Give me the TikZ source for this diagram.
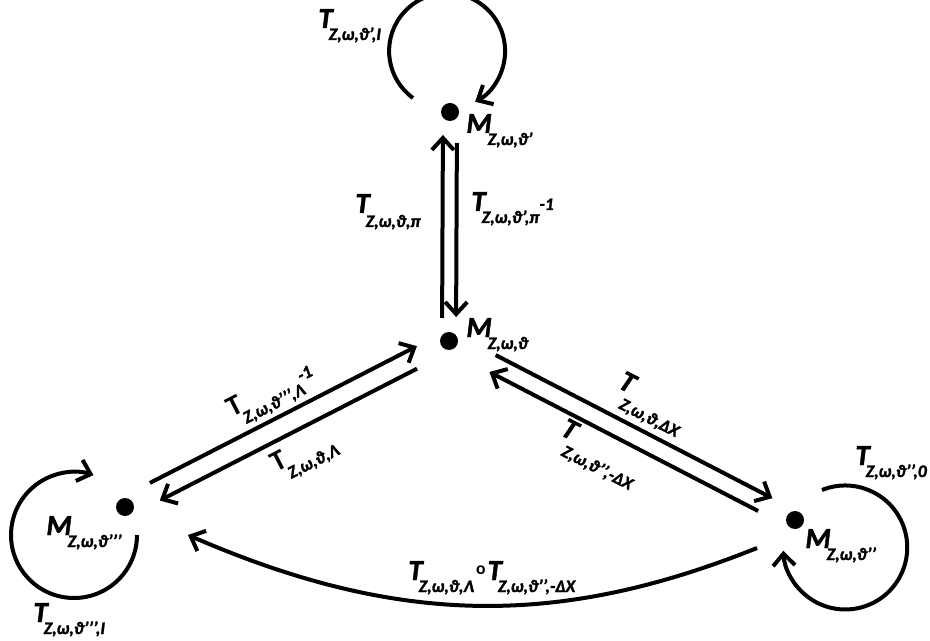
\documentclass[tikz,border=0pt]{standalone}
\usepackage{fontspec}
\setmainfont{Carlito}[BoldItalicFeatures={FakeBold=1.6}]
\usetikzlibrary{%
	arrows.meta,%
	positioning,%
	calc,%
}
\tikzset{
	>={Straight Barb[length=6pt,width=11pt]},%
	dotnode/.style={%
			circle,%
			fill,%
			inner sep=0pt,%
			minimum size=9pt},%
	lbl/.style={%
			inner sep=0pt,%
			font=\fontsize{14.5}{16}\selectfont\bfseries\itshape},%
	arr/.style={->, line width=2pt},%
}
\newcommand{\subfnt}{\fontsize{8.8}{10}\selectfont}
\newcommand{\tsub}[3][6pt]{#2\kern-2pt\raisebox{-#1}{\subfnt #3}}
\newcommand{\sps}[1]{\raisebox{6.5pt}{#1}}

\begin{document}
\begin{tikzpicture}[x=0.5pt, y=-0.5pt]
	\useasboundingbox (0,0) rectangle (930,641);

	% states
	\node[dotnode] (mt) at (450,112) {};
	\node[dotnode] (mc) at (449,341) {};
	\node[dotnode] (ml) at (125,507) {};
	\node[dotnode] (mr) at (795,520) {};

	\node[lbl, anchor=base west] (lmt) at (466,133) {\tsub{M}{Z,ω,ϑ’}};
	\node[lbl, anchor=base west] (lmc) at (466,337) {\tsub{M}{Z,ω,ϑ}};
	\node[lbl, anchor=base west] (lml) at (46,535) {\tsub{M}{Z,ω,ϑ’’’}};
	\node[lbl, anchor=base west] (lmr) at (805,548) {\tsub{M}{Z,ω,ϑ’’}};

	% transitions
	\draw[arr, shorten <=11.5pt, shorten >=11.5pt] ([shift={(-7,0)}]mc.center) -- ([shift={(-7,0)}]mt.center);
	\draw[arr, shorten <=15.5pt, shorten >=12pt] ([shift={(7,0)}]mt.center) -- ([shift={(7,0)}]mc.center);
	\draw[arr, shorten <=16.5pt, shorten >=15.5pt] ([shift={(-4.5,-9)}]ml.center) -- ([shift={(-4.5,-9)}]mc.center);
	\draw[arr, shorten <=20.5pt, shorten >=17pt] ([shift={(4.5,9)}]mc.center) -- ([shift={(4.5,9)}]ml.center);
	\draw[arr, shorten <=24pt, shorten >=15pt] ([shift={(4,-8)}]mc.center) -- ([shift={(4,-8)}]mr.center);
	\draw[arr, shorten <=18.5pt, shorten >=25pt] ([shift={(-4,8)}]mr.center) -- ([shift={(-4,8)}]mc.center);
	\draw[arr] ([shift={(-38,28)}]mr.center) .. controls +(-197,79) and +(212,92) .. ([shift={(63,28)}]ml.center);

	% self loops
	\draw[arr] ([shift={(-37,-14)}]mt.center) arc[start angle=126, end angle=421, radius=58];
	\draw[arr] ([shift={(12,28)}]ml.center) arc[start angle=0, end angle=288, radius=63];
	\draw[arr] ([shift={(27,-30)}]mr.center) arc[start angle=248, end angle=537, radius=62];

	% labels
	\node[lbl, anchor=base west] (tmt) at (318,28) {\tsub{T}{Z,ω,ϑ’,I}};
	\node[lbl, anchor=base west] (tup) at (355,213) {\tsub[7pt]{T}{Z,ω,ϑ,π}};
	\node[lbl, anchor=base west] (tdown) at (471,211) {\tsub{T}{Z,ω,ϑ’,π\sps{-1}}};
	\node[lbl, rotate=27] (tlu) at (272,395) {\tsub{\textup{T}}{Z,ω,ϑ’’’,Λ\sps{-1}}};
	\node[lbl, rotate=27] (tll) at (305,456) {\tsub{\textup{T}}{Z,ω,ϑ,Λ}};
	\node[lbl, rotate=-27] (tru) at (650,405) {\tsub[9pt]{T}{Z,ω,ϑ,ΔX}};
	\node[lbl, rotate=-27] (trl) at (598,455) {\tsub[9pt]{T}{Z,ω,ϑ’’,-ΔX}};
	\node[lbl, anchor=base west] (tmr) at (855,465) {\tsub{T}{Z,ω,ϑ’’,0}};
	\node[lbl, anchor=base west] (tml) at (33,622) {\tsub{T}{Z,ω,ϑ’’’,I}};
	\node[lbl, anchor=base west] (tbot) at (408,580) {\tsub{T}{Z,ω,ϑ,Λ}\kern1pt\raisebox{3pt}{\subfnt\textup{o}}\kern1pt\tsub{T}{Z,ω,ϑ’’,-ΔX}};
\end{tikzpicture}
\end{document}
